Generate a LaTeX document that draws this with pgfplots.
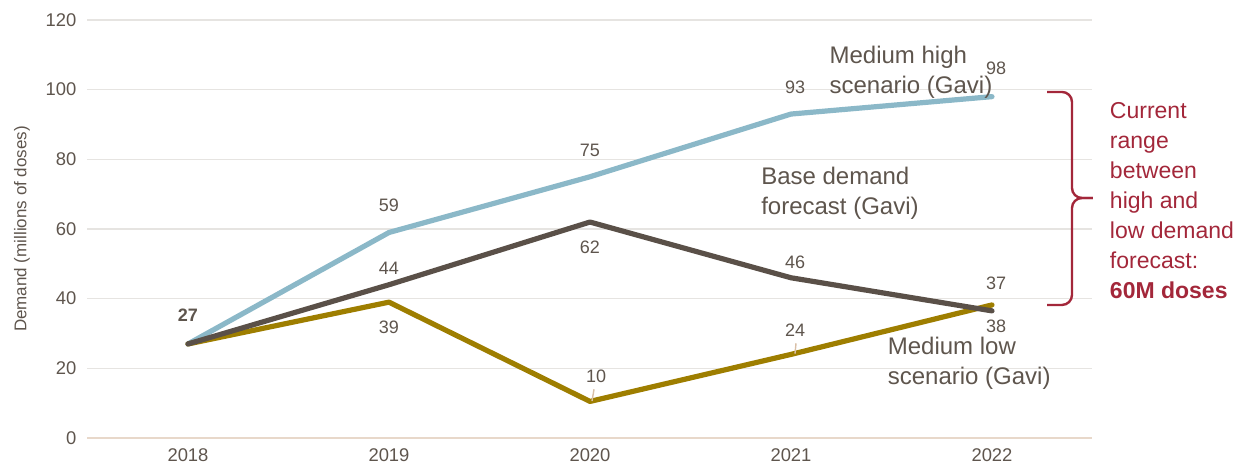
\documentclass[border=0pt]{standalone}
\usepackage{pgfplots}
\pgfplotsset{compat=1.18}
\usepackage{fontspec}
\setmainfont{Liberation Sans}

\definecolor{txt}{HTML}{5E554D}
\definecolor{gridc}{HTML}{E6E4E1}
\definecolor{hi}{HTML}{8BB8C8}
\definecolor{base}{HTML}{5A5048}
\definecolor{low}{HTML}{9E7E00}
\definecolor{redc}{HTML}{A3273A}
\definecolor{lead}{HTML}{D9BFA6}

\begin{document}
\begin{tikzpicture}
\useasboundingbox (-43.75pt,-16.5pt) rectangle (580.25pt,219pt);
\begin{axis}[
    at={(0,0)}, anchor=south west,
    scale only axis, width=502.5pt, height=209pt,
    xmin=2017.5, xmax=2022.5, ymin=0, ymax=120,
    xtick={2018,2019,2020,2021,2022},
    ytick={0,20,40,60,80,100,120},
    /pgf/number format/1000 sep={},
    /pgf/number format/assume math mode=true,
    axis line style={draw=none},
    major tick length=0pt,
    xmajorgrids=false, ymajorgrids=true,
    grid style={draw=gridc, line width=0.8pt},
    tick label style={font=\fontsize{9.2}{10}\selectfont, text=txt},
    yticklabel style={xshift=-2pt},
    xticklabel style={yshift=-2pt},
    ylabel={Demand (millions of doses)},
    ylabel style={font=\fontsize{8.5}{10}\selectfont, text=txt, yshift=1pt},
    clip=false,
]
\draw[lead!60, line width=0.8pt] (axis cs:2017.5,0) -- (axis cs:2022.5,0);

\addplot[hi, line width=2.6pt, line join=round, line cap=round] coordinates {(2018,27) (2019,59) (2020,75) (2021,93) (2022,98)};
\addplot[low, line width=2.6pt, line join=round, line cap=round] coordinates {(2018,27) (2019,39) (2020,10.5) (2021,24) (2022,38.2)};
\addplot[base, line width=2.6pt, line join=round, line cap=round] coordinates {(2018,27) (2019,44) (2020,62) (2021,46) (2022,36.5)};

% data labels
\begin{scope}[every node/.style={font=\fontsize{9}{10}\selectfont, text=txt}]
\node[font=\bfseries\fontsize{9}{10}\selectfont] at (axis cs:2018,35.3) {27};
\node at (axis cs:2019,66.9) {59};
\node at (axis cs:2019,48.8) {44};
\node at (axis cs:2019,31.9) {39};
\node at (axis cs:2020,82.7) {75};
\node at (axis cs:2020,54.8) {62};
\node at (axis cs:2020.03,17.8) {10};
\node at (axis cs:2021.02,100.8) {93};
\node at (axis cs:2021.02,50.5) {46};
\node at (axis cs:2021.02,31.0) {24};
\node at (axis cs:2022.02,106.2) {98};
\node at (axis cs:2022.02,44.5) {37};
\node at (axis cs:2022.02,32.2) {38};
\end{scope}
\draw[lead, line width=0.7pt] (axis cs:2020.02,14.0) -- (axis cs:2020.01,10.6);
\draw[lead, line width=0.7pt] (axis cs:2021.025,27.2) -- (axis cs:2021.02,24.2);

% series annotations
\begin{scope}[every node/.style={font=\fontsize{12}{15}\selectfont, text=txt, align=left, anchor=west, inner sep=0pt}]
\node at (axis cs:2021.19,104.9) {Medium high\\scenario (Gavi)};
\node at (axis cs:2020.85,70.3) {Base demand\\forecast (Gavi)};
\node at (axis cs:2021.48,21.4) {Medium low\\scenario (Gavi)};
\end{scope}

% brace
\draw[redc, line width=1.2pt, rounded corners=5pt]
  (axis cs:2022.274,99.34) -- (axis cs:2022.398,99.34) -- (axis cs:2022.398,68.9) -- (axis cs:2022.502,68.9);
\draw[redc, line width=1.2pt, rounded corners=5pt]
  (axis cs:2022.274,38.19) -- (axis cs:2022.398,38.19) -- (axis cs:2022.398,68.9) -- (axis cs:2022.502,68.9);
\node[font=\fontsize{11.5}{15}\selectfont, text=redc, align=left, anchor=west, inner sep=0pt]
  at (axis cs:2022.585,68.3) {Current\\range\\between\\high and\\low demand\\forecast:\\\textbf{60M doses}};
\end{axis}
\end{tikzpicture}
\end{document}
